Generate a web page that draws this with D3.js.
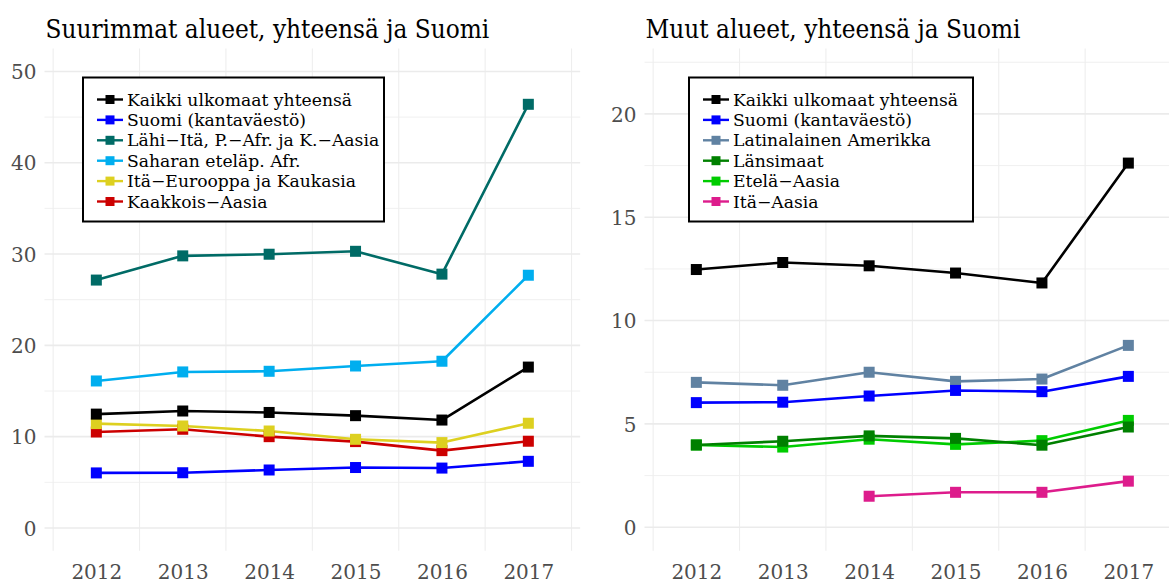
<!DOCTYPE html>
<html>
<head>
<meta charset="utf-8">
<script src="https://cdn.jsdelivr.net/npm/d3@7"></script>
<style>
  html, body { margin: 0; padding: 0; background: #ffffff; }
  svg { display: block; }
  .serif { font-family: "DejaVu Serif Condensed", "DejaVu Serif", serif; font-stretch: condensed; }
  .legend-text { font-family: "DejaVu Serif", serif; }
  .tick-text { font-family: "DejaVu Serif", serif; fill: #4d4d4d; }
</style>
</head>
<body>
<svg id="chart" width="1169" height="584"></svg>
<script>
// ---------------- DATA ----------------
const years = [2012, 2013, 2014, 2015, 2016, 2017];

const kaikkiUlkomaat = [12.47, 12.81, 12.65, 12.30, 11.82, 17.62];
const suomiKanta     = [6.03, 6.05, 6.35, 6.62, 6.56, 7.30];
const lahiIta        = [27.15, 29.80, 29.98, 30.30, 27.80, 46.40];
const saharanEtela   = [16.10, 17.09, 17.16, 17.74, 18.26, 27.68];
const itaEurooppa    = [11.43, 11.17, 10.62, 9.71, 9.35, 11.47];
const kaakkoisAasia  = [10.51, 10.81, 10.00, 9.46, 8.47, 9.50];
const latinalainen   = [7.01, 6.87, 7.50, 7.06, 7.17, 8.80];
const lansimaat      = [3.98, 4.16, 4.42, 4.30, 3.97, 4.85];
const etelaAasia     = [3.98, 3.88, 4.26, 4.01, 4.19, 5.17];
const itaAasia       = [null, null, 1.50, 1.69, 1.69, 2.23];

const leftTitle  = "Suurimmat alueet, yhteensä ja Suomi";
const rightTitle = "Muut alueet, yhteensä ja Suomi";

const leftTicks  = [0, 10, 20, 30, 40, 50];
const leftMinor  = [5, 15, 25, 35, 45];
const rightTicks = [0, 5, 10, 15, 20];
const rightMinor = [2.5, 7.5, 12.5, 17.5, 22.5];

const leftSeries = [
  { name: "Kaikki ulkomaat yhteensä",        values: kaikkiUlkomaat, color: "#000000" },
  { name: "Suomi (kantaväestö)",             values: suomiKanta,     color: "#0000FF" },
  { name: "Lähi−Itä, P.−Afr. ja K.−Aasia",   values: lahiIta,        color: "#006B66" },
  { name: "Saharan eteläp. Afr.",            values: saharanEtela,   color: "#00AEEF" },
  { name: "Itä−Eurooppa ja Kaukasia",        values: itaEurooppa,    color: "#DDD020" },
  { name: "Kaakkois−Aasia",                  values: kaakkoisAasia,  color: "#CC0000" }
];
const rightSeries = [
  { name: "Kaikki ulkomaat yhteensä",  values: kaikkiUlkomaat, color: "#000000" },
  { name: "Suomi (kantaväestö)",       values: suomiKanta,     color: "#0000FF" },
  { name: "Latinalainen Amerikka",     values: latinalainen,   color: "#6082A2" },
  { name: "Länsimaat",                 values: lansimaat,      color: "#008000" },
  { name: "Etelä−Aasia",               values: etelaAasia,     color: "#00CC00" },
  { name: "Itä−Aasia",                 values: itaAasia,       color: "#DD1C8C" }
];

// ---------------- LAYOUT ----------------
const svg = d3.select("#chart");
const panelTop = 48.6, panelBottom = 550.8;

function drawPanel(cfg) {
  const g = svg.append("g");
  const x = d3.scaleLinear().domain([2011.4, 2017.6]).range([cfg.left, cfg.left + 86.4 * 6.2]);
  const y = d3.scaleLinear().domain(cfg.yDomain).range([panelBottom, panelTop]);
  const clipRight = Math.min(cfg.left + 86.4 * 6.2, 1169);

  // minor horizontal grid
  g.selectAll(".hminor").data(cfg.minor).join("line")
    .attr("x1", cfg.left).attr("x2", clipRight)
    .attr("y1", d => y(d)).attr("y2", d => y(d))
    .attr("stroke", "#EEEEEE").attr("stroke-width", 0.9);
  // vertical grid at half-years
  const vlines = d3.range(2011.5, 2018, 1).filter(v => x(v) <= 1169);
  g.selectAll(".vgrid").data(vlines).join("line")
    .attr("x1", d => x(d)).attr("x2", d => x(d))
    .attr("y1", panelTop).attr("y2", panelBottom)
    .attr("stroke", "#EEEEEE").attr("stroke-width", 1.1);
  // major horizontal grid
  g.selectAll(".hmajor").data(cfg.ticks).join("line")
    .attr("x1", cfg.left).attr("x2", clipRight)
    .attr("y1", d => y(d)).attr("y2", d => y(d))
    .attr("stroke", "#EBEBEB").attr("stroke-width", 1.6);

  // y axis labels
  const yAxis = d3.axisLeft(y).tickValues(cfg.ticks).tickSize(0).tickPadding(0);
  const ya = g.append("g").attr("transform", `translate(${cfg.left - 8},0)`).call(yAxis);
  ya.select(".domain").remove();
  ya.selectAll("text").attr("class", "tick-text").attr("font-size", 20).attr("dy", "0.36em");

  // x axis labels
  const xAxis = d3.axisBottom(x).tickValues(years).tickFormat(d3.format("d")).tickSize(0).tickPadding(0);
  const xa = g.append("g").attr("transform", `translate(0,${579})`).call(xAxis);
  xa.select(".domain").remove();
  xa.selectAll("text").attr("class", "tick-text").attr("font-size", 20).attr("dy", "0");

  // title
  g.append("text").attr("class", "serif title")
    .attr("x", cfg.left + 1).attr("y", 38)
    .attr("font-size", 25).attr("fill", "#000")
    .text(cfg.title);

  // lines (reverse order so first series on top)
  const line = d3.line()
    .defined(d => d.v !== null)
    .x(d => x(d.year)).y(d => y(d.v));
  const rev = cfg.series.slice().reverse();
  rev.forEach(s => {
    const pts = years.map((yr, i) => ({ year: yr, v: s.values[i] }));
    g.append("path").datum(pts)
      .attr("d", line).attr("fill", "none")
      .attr("stroke", s.color).attr("stroke-width", 2.6)
      .attr("stroke-linejoin", "round");
  });
  rev.forEach(s => {
    const pts = years.map((yr, i) => ({ year: yr, v: s.values[i] })).filter(d => d.v !== null);
    const ms = 11;
    g.selectAll(null).data(pts).join("rect")
      .attr("x", d => x(d.year) - ms / 2).attr("y", d => y(d.v) - ms / 2)
      .attr("width", ms).attr("height", ms).attr("fill", s.color);
  });

  // legend
  const lg = g.append("g");
  lg.append("rect")
    .attr("x", cfg.legend.x0).attr("y", 77.5)
    .attr("width", cfg.legend.x1 - cfg.legend.x0).attr("height", 144)
    .attr("fill", "#fff").attr("stroke", "#000").attr("stroke-width", 2);
  const rowY = i => 99.5 + i * 20.4;
  cfg.series.forEach((s, i) => {
    const kx = cfg.legend.x0 + 14;
    lg.append("line")
      .attr("x1", kx).attr("x2", kx + 26)
      .attr("y1", rowY(i)).attr("y2", rowY(i))
      .attr("stroke", s.color).attr("stroke-width", 2.4);
    lg.append("rect")
      .attr("x", kx + 13 - 4.5).attr("y", rowY(i) - 4.5)
      .attr("width", 9).attr("height", 9).attr("fill", s.color);
    lg.append("text").attr("class", "legend-text")
      .attr("x", kx + 30).attr("y", rowY(i)).attr("dy", "0.35em")
      .attr("font-size", 16).attr("fill", "#000")
      .text(s.name);
  });
}

drawPanel({
  left: 44.5, yDomain: [-2.5, 52.5], ticks: leftTicks, minor: leftMinor,
  series: leftSeries, title: leftTitle,
  legend: { x0: 83, x1: 384 }
});
drawPanel({
  left: 644.5, yDomain: [-1.14, 23.16], ticks: rightTicks, minor: rightMinor,
  series: rightSeries, title: rightTitle,
  legend: { x0: 689, x1: 973 }
});

// fit font sizes to the reference text widths
const tt = svg.select(".title").node();
const titleSize = 25 * 444 / tt.getComputedTextLength();
svg.selectAll(".title").attr("font-size", titleSize);
const lt = svg.select(".legend-text").node();
const legSize = Math.min(17.2, 16 * 226 / lt.getComputedTextLength());
svg.selectAll(".legend-text").attr("font-size", legSize);
</script>
</body>
</html>
